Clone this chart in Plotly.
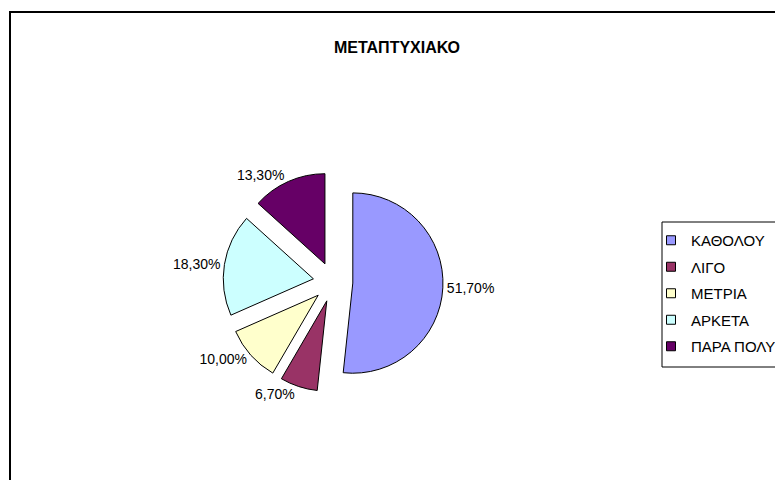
import plotly.graph_objects as go

categories = ["ΚΑΘΟΛΟΥ", "ΛΙΓΟ", "ΜΕΤΡΙΑ", "ΑΡΚΕΤΑ", "ΠΑΡΑ ΠΟΛΥ"]
values = [51.7, 6.7, 10.0, 18.3, 13.3]
colors = ["#9999FF", "#993366", "#FFFFCC", "#CCFFFF", "#660066"]
pulls = [0.22, 0.22, 0.22, 0.22, 0.22]
title_text = "ΜΕΤΑΠΤΥΧΙΑΚΟ"

labels_text = [f"{v:.2f}%".replace(".", ",") for v in values]

W, H = 783, 480
FONT = "Liberation Sans, Arial, sans-serif"

cx, cy, half = 325, 274, 110
fig = go.Figure(go.Pie(
    labels=categories,
    values=values,
    text=labels_text,
    textinfo="text",
    textposition="outside",
    sort=False,
    direction="clockwise",
    rotation=0,
    pull=pulls,
    marker=dict(colors=colors, line=dict(color="#000000", width=1)),
    textfont=dict(family=FONT, size=14, color="#000000"),
    domain=dict(x=[(cx - half) / W, (cx + half) / W], y=[1 - (cy + half) / H, 1 - (cy - half) / H]),
    hoverinfo="label+percent",
    showlegend=False,
))

# legend entries (square swatches like the original)
for cat, col in zip(categories, colors):
    fig.add_trace(go.Scatter(
        x=[None], y=[None], mode="markers", name=cat, legendgroup=cat,
        marker=dict(symbol="square", size=9, color=col, line=dict(color="#000000", width=1)),
        showlegend=True, hoverinfo="skip",
    ))

fig.update_layout(
    width=W, height=H,
    margin=dict(l=0, r=0, t=0, b=0),
    paper_bgcolor="white",
    plot_bgcolor="white",
    font=dict(family=FONT, color="#000000"),
    xaxis=dict(visible=False, showgrid=False, zeroline=False),
    yaxis=dict(visible=False, showgrid=False, zeroline=False),
    title=dict(text="<b>" + title_text + "</b>", x=389 / W, xanchor="center", y=1 - 39 / H, yanchor="middle",
               font=dict(family=FONT, size=16, color="#000000")),
    showlegend=True,
    legend=dict(x=643 / W, xanchor="left", y=1 - 216 / H, yanchor="top",
                font=dict(family=FONT, size=15, color="#000000"),
                bgcolor="rgba(0,0,0,0)", borderwidth=0, itemwidth=30,
                traceorder="grouped", tracegroupgap=4),
    shapes=[
        dict(type="rect", xref="paper", yref="paper", x0=2 / W, x1=1.05, y0=-0.05, y1=1 - 4 / H,
             line=dict(color="#000000", width=2), fillcolor="rgba(0,0,0,0)", layer="above"),
        dict(type="rect", xref="paper", yref="paper", x0=654 / W, x1=1.05, y0=1 - 359 / H, y1=1 - 214 / H,
             line=dict(color="#000000", width=1), fillcolor="rgba(0,0,0,0)", layer="above"),
    ],
)

fig.write_html("out.html")
